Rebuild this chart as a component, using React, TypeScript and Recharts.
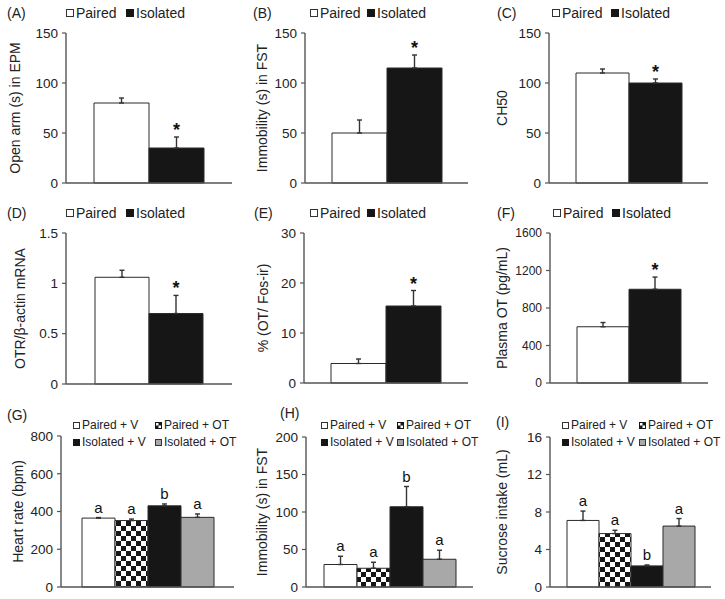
import React from "react";
import { BarChart, Bar, XAxis, YAxis, ErrorBar, LabelList } from "recharts";

const FONT = '"Liberation Sans", Arial, Helvetica, sans-serif';

// ─── Data ─────────────────────────────────────────────────────────────────────

const twoGroups = ["Paired", "Isolated"];
const fourGroups = ["Paired + V", "Paired + OT", "Isolated + V", "Isolated + OT"];

// (A) open arm time in EPM
const openArmMean = [80, 35];
const openArmSem = [5, 11];
const openArmMarks = ["", "*"];
const openArmTicks = [0, 50, 100, 150];

// (B) immobility in FST
const fstMean = [50, 115];
const fstSem = [13, 13];
const fstMarks = ["", "*"];
const fstTicks = [0, 50, 100, 150];

// (C) CH50
const ch50Mean = [110, 100];
const ch50Sem = [4, 4];
const ch50Marks = ["", "*"];
const ch50Ticks = [0, 50, 100, 150];

// (D) OTR / beta-actin mRNA
const otrMean = [1.06, 0.7];
const otrSem = [0.07, 0.18];
const otrMarks = ["", "*"];
const otrTicks = [0, 0.5, 1, 1.5];

// (E) % OT / Fos-ir
const fosMean = [3.9, 15.4];
const fosSem = [0.9, 3.1];
const fosMarks = ["", "*"];
const fosTicks = [0, 10, 20, 30];

// (F) plasma OT
const plasmaMean = [600, 1000];
const plasmaSem = [45, 130];
const plasmaMarks = ["", "*"];
const plasmaTicks = [0, 400, 800, 1200, 1600];

// (G) heart rate
const heartMean = [365, 352, 430, 369];
const heartSem = [3, 8, 10, 18];
const heartMarks = ["a", "a", "b", "a"];
const heartTicks = [0, 200, 400, 600, 800];

// (H) immobility in FST with OT
const fstOtMean = [30, 25, 107, 37];
const fstOtSem = [11, 8, 27, 12];
const fstOtMarks = ["a", "a", "b", "a"];
const fstOtTicks = [0, 50, 100, 150, 200];

// (I) sucrose intake
const sucroseMean = [7.1, 5.7, 2.25, 6.5];
const sucroseSem = [1.0, 0.35, 0.1, 0.8];
const sucroseMarks = ["a", "a", "b", "a"];
const sucroseTicks = [0, 4, 8, 12, 16];

// ─── Layout ───────────────────────────────────────────────────────────────────

type Panel = {
  id: string;
  tag: string;
  tagPos: [number, number];
  groups: string[];
  mean: number[];
  sem: number[];
  marks: string[];
  ticks: number[];
  yLabel: string;
  yLabelDist: number;
  x0: number;
  x1: number;
  yTop: number;
  yBot: number;
  barSize: number;
  tickFont: number;
  legend: [number, number][];
  legendFont: number;
};

const pos2 = (a: number, b: number, y: number): [number, number][] => [
  [a, y],
  [b, y],
];
const pos4 = (a: number, b: number): [number, number][] => [
  [a, 425],
  [b, 425],
  [a, 442],
  [b, 442],
];

const panels: Panel[] = [
  {
    id: "A", tag: "(A)", tagPos: [7, 13], groups: twoGroups, mean: openArmMean, sem: openArmSem,
    marks: openArmMarks, ticks: openArmTicks, yLabel: "Open arm (s) in EPM", yLabelDist: 51,
    x0: 66, x1: 232, yTop: 33, yBot: 183, barSize: 55, tickFont: 13.5,
    legend: pos2(66, 126, 13), legendFont: 14,
  },
  {
    id: "B", tag: "(B)", tagPos: [253, 13], groups: twoGroups, mean: fstMean, sem: fstSem,
    marks: fstMarks, ticks: fstTicks, yLabel: "Immobility (s) in FST", yLabelDist: 43,
    x0: 305, x1: 468, yTop: 33, yBot: 183, barSize: 55, tickFont: 13.5,
    legend: pos2(310, 367, 13), legendFont: 14,
  },
  {
    id: "C", tag: "(C)", tagPos: [497, 13], groups: twoGroups, mean: ch50Mean, sem: ch50Sem,
    marks: ch50Marks, ticks: ch50Ticks, yLabel: "CH50", yLabelDist: 47,
    x0: 549, x1: 708, yTop: 33, yBot: 183, barSize: 53, tickFont: 13.5,
    legend: pos2(552, 611, 13), legendFont: 14,
  },
  {
    id: "D", tag: "(D)", tagPos: [7, 213], groups: twoGroups, mean: otrMean, sem: otrSem,
    marks: otrMarks, ticks: otrTicks, yLabel: "OTR/β-actin mRNA", yLabelDist: 46,
    x0: 66, x1: 232, yTop: 233, yBot: 384, barSize: 54, tickFont: 13.5,
    legend: pos2(66, 126, 213), legendFont: 14,
  },
  {
    id: "E", tag: "(E)", tagPos: [254, 213], groups: twoGroups, mean: fosMean, sem: fosSem,
    marks: fosMarks, ticks: fosTicks, yLabel: "% (OT/ Fos-ir)", yLabelDist: 41,
    x0: 304, x1: 468, yTop: 233, yBot: 383, barSize: 55, tickFont: 13.5,
    legend: pos2(310, 367, 213), legendFont: 14,
  },
  {
    id: "F", tag: "(F)", tagPos: [497, 213], groups: twoGroups, mean: plasmaMean, sem: plasmaSem,
    marks: plasmaMarks, ticks: plasmaTicks, yLabel: "Plasma OT (pg/mL)", yLabelDist: 48,
    x0: 550, x1: 708, yTop: 233, yBot: 383, barSize: 52, tickFont: 12,
    legend: pos2(553, 612, 213), legendFont: 14,
  },
  {
    id: "G", tag: "(G)", tagPos: [7, 415], groups: fourGroups, mean: heartMean, sem: heartSem,
    marks: heartMarks, ticks: heartTicks, yLabel: "Heart rate (bpm)", yLabelDist: 43,
    x0: 61, x1: 234, yTop: 436, yBot: 587, barSize: 33, tickFont: 13.5,
    legend: pos4(73, 155), legendFont: 12,
  },
  {
    id: "H", tag: "(H)", tagPos: [280, 413], groups: fourGroups, mean: fstOtMean, sem: fstOtSem,
    marks: fstOtMarks, ticks: fstOtTicks, yLabel: "Immobility (s) in FST", yLabelDist: 44,
    x0: 306, x1: 473, yTop: 437, yBot: 587, barSize: 33, tickFont: 13.5,
    legend: pos4(321, 397), legendFont: 12,
  },
  {
    id: "I", tag: "(I)", tagPos: [496, 422], groups: fourGroups, mean: sucroseMean, sem: sucroseSem,
    marks: sucroseMarks, ticks: sucroseTicks, yLabel: "Sucrose intake (mL)", yLabelDist: 48,
    x0: 550, x1: 711, yTop: 437, yBot: 587, barSize: 32, tickFont: 13.5,
    legend: pos4(562, 639), legendFont: 12,
  },
];

const BLACK = "#161616";
const GREY = "#a8a8a8";
const EDGE = "#2a2a2a";
const AXIS = "#555";

function fillFor(group: string, id: string) {
  if (group === "Paired" || group === "Paired + V") return "#ffffff";
  if (group === "Paired + OT") return `url(#chk${id})`;
  if (group === "Isolated + OT") return GREY;
  return BLACK;
}

// ─── Legend swatch ────────────────────────────────────────────────────────────

function Swatch({ group, size }: { group: string; size: number }) {
  const h = size / 2;
  if (group === "Paired + OT") {
    return (
      <svg width={size} height={size} style={{ display: "block" }}>
        <rect x={0} y={0} width={size} height={size} fill={BLACK} />
        <rect x={1} y={1} width={h - 1} height={h - 1} fill="#fff" />
        <rect x={h} y={h} width={h - 1} height={h - 1} fill="#fff" />
      </svg>
    );
  }
  const filled = group === "Isolated" || group === "Isolated + V";
  return (
    <svg width={size} height={size} style={{ display: "block" }}>
      <rect
        x={0.5}
        y={0.5}
        width={size - 1}
        height={size - 1}
        fill={filled ? BLACK : group === "Isolated + OT" ? GREY : "#fff"}
        stroke={filled ? BLACK : "#333"}
      />
    </svg>
  );
}

// ─── One panel ────────────────────────────────────────────────────────────────

function PanelChart({ p }: { p: Panel }) {
  const yAxisW = 60;
  const mTop = 10;
  const mBottom = 12;
  const xAxisH = 1;
  const width = yAxisW + (p.x1 - p.x0) + 5;
  const height = mTop + (p.yBot - p.yTop) + mBottom + xAxisH;
  const row: Record<string, any> = { name: p.id };
  p.groups.forEach((_, i) => {
    row[`v${i}`] = p.mean[i];
    row[`e${i}`] = [0, p.sem[i]];
  });
  const data = [row];
  const max = p.ticks[p.ticks.length - 1];
  const plotH = p.yBot - p.yTop;

  const yLabel = (props: any) => {
    const vb = props.viewBox || {};
    const cx = (vb.x ?? 0) + (vb.width ?? yAxisW) - p.yLabelDist;
    const cy = (vb.y ?? mTop) + (vb.height ?? plotH) / 2;
    return (
      <text
        x={cx}
        y={cy}
        transform={`rotate(-90 ${cx} ${cy})`}
        textAnchor="middle"
        dominantBaseline="central"
        fontSize={14}
        fontFamily={FONT}
        fill="#222"
      >
        {p.yLabel}
      </text>
    );
  };

  const markLabel = (i: number) => (props: any) => {
    const mark = p.marks[i];
    if (!mark) return null;
    const vb = props.viewBox && props.viewBox.width != null ? props.viewBox : props;
    const x = Number(vb.x);
    const y = Number(vb.y);
    const w = Number(vb.width);
    const h = Number(vb.height);
    const top = Math.min(y, y + h);
    const barPx = Math.abs(h);
    const errPx = (p.sem[i] / p.mean[i]) * barPx;
    const isStar = mark === "*";
    return (
      <text
        x={x + w / 2}
        y={top - errPx - (isStar ? 1 : 5)}
        textAnchor="middle"
        fontSize={isStar ? 18 : 15}
        fontWeight={isStar ? "bold" : "normal"}
        fontFamily={FONT}
        fill="#111"
      >
        {mark}
      </text>
    );
  };

  return (
    <div style={{ position: "absolute", left: p.x0 - yAxisW, top: p.yTop - mTop }}>
      <BarChart
        width={width}
        height={height}
        data={data}
        barGap={0}
        margin={{ top: mTop, right: 5, left: 0, bottom: mBottom }}
      >
        <defs>
          <pattern id={`chk${p.id}`} width={10} height={10} patternUnits="userSpaceOnUse">
            <rect width={10} height={10} fill="#fff" />
            <rect width={5} height={5} fill={BLACK} />
            <rect x={5} y={5} width={5} height={5} fill={BLACK} />
          </pattern>
        </defs>
        <XAxis
          dataKey="name"
          height={xAxisH}
          tick={false}
          tickLine={false}
          axisLine={{ stroke: AXIS, strokeWidth: 1.4 }}
        />
        <YAxis
          type="number"
          width={yAxisW}
          domain={[0, max]}
          ticks={p.ticks}
          interval={0}
          tickSize={4}
          tickMargin={4}
          tickLine={{ stroke: AXIS, strokeWidth: 1.2 }}
          axisLine={{ stroke: AXIS, strokeWidth: 1.4 }}
          tick={{ fontSize: p.tickFont, fill: "#222", fontFamily: FONT }}
          label={yLabel}
        />
        {p.groups.map((g, i) => (
          <Bar
            key={g}
            dataKey={`v${i}`}
            name={g}
            barSize={p.barSize}
            fill={fillFor(g, p.id)}
            stroke={EDGE}
            strokeWidth={1}
            isAnimationActive={false}
          >
            <ErrorBar
              dataKey={`e${i}`}
              direction="y"
              width={2.5}
              stroke="#333"
              strokeWidth={1.4}
              isAnimationActive={false}
            />
            <LabelList dataKey={`v${i}`} content={markLabel(i)} />
          </Bar>
        ))}
      </BarChart>
    </div>
  );
}

function PanelLegend({ p }: { p: Panel }) {
  const sw = p.groups.length === 2 ? 8 : 7;
  return (
    <>
      <div
        style={{
          position: "absolute",
          left: p.tagPos[0],
          top: p.tagPos[1] - 8,
          lineHeight: "16px",
          fontSize: 14,
          color: "#222",
        }}
      >
        {p.tag}
      </div>
      {p.groups.map((g, i) => (
        <div
          key={g}
          style={{
            position: "absolute",
            left: p.legend[i][0],
            top: p.legend[i][1] - 8,
            height: 16,
            display: "flex",
            alignItems: "center",
            fontSize: p.legendFont,
            color: "#222",
            whiteSpace: "nowrap",
          }}
        >
          <Swatch group={g} size={sw} />
          <span style={{ marginLeft: 2 }}>{g}</span>
        </div>
      ))}
    </>
  );
}

export default function App() {
  return (
    <div
      style={{
        position: "absolute",
        left: 0,
        top: 0,
        width: 725,
        height: 599,
        background: "#fff",
        fontFamily: FONT,
        overflow: "hidden",
      }}
    >
      {panels.map((p) => (
        <React.Fragment key={p.id}>
          <PanelChart p={p} />
          <PanelLegend p={p} />
        </React.Fragment>
      ))}
    </div>
  );
}
